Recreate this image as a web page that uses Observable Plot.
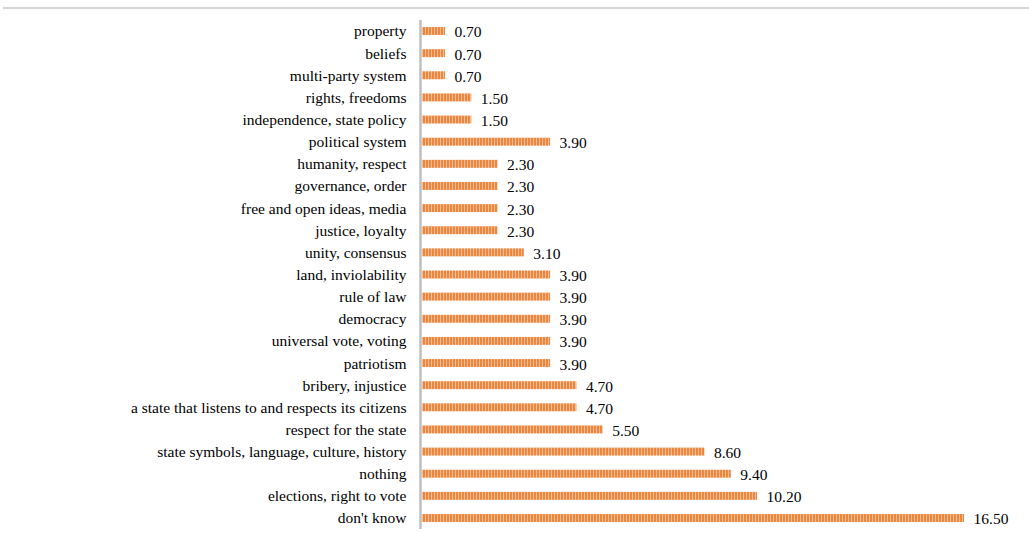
<!DOCTYPE html>
<html>
<head>
<meta charset="utf-8">
<script src="https://cdn.jsdelivr.net/npm/d3@7"></script>
<script src="https://cdn.jsdelivr.net/npm/@observablehq/plot@0.6"></script>
<style>
  html, body { margin: 0; padding: 0; background: #fff; }
  #wrap { position: relative; width: 1029px; height: 533px; }
  #topline { position: absolute; left: 3px; right: 0; top: 7px; height: 2px; background: #d4d4d4; }
  #chart { position: absolute; left: 0; top: 0; }
</style>
</head>
<body>
<div id="wrap"><div id="topline"></div><div id="chart"></div></div>
<script>
const categories = [
  "property", "beliefs", "multi-party system", "rights, freedoms",
  "independence, state policy", "political system", "humanity, respect",
  "governance, order", "free and open ideas, media", "justice, loyalty",
  "unity, consensus", "land, inviolability", "rule of law", "democracy",
  "universal vote, voting", "patriotism", "bribery, injustice",
  "a state that listens to and respects its citizens", "respect for the state",
  "state symbols, language, culture, history", "nothing",
  "elections, right to vote", "don't know"
];
const values = [
  0.70, 0.70, 0.70, 1.50, 1.50, 3.90, 2.30, 2.30, 2.30, 2.30, 3.10, 3.90,
  3.90, 3.90, 3.90, 3.90, 4.70, 4.70, 5.50, 8.60, 9.40, 10.20, 16.50
];
const data = categories.map((c, i) => ({category: c, value: values[i]}));

const plot = Plot.plot({
  width: 1029,
  height: 533,
  marginLeft: 422,
  marginRight: 65,
  marginTop: 19.95,
  marginBottom: 3.95,
  style: {fontFamily: "'Liberation Serif', 'Times New Roman', serif", fontSize: "15px", color: "#000", background: "transparent"},
  x: {domain: [0, 16.5], axis: null},
  y: {domain: categories, paddingInner: 0.64, paddingOuter: 0.32, round: false, label: null},
  marks: [
    Plot.barX(data, {x: "value", y: "category", fill: "url(#stripes)"}),
    Plot.ruleX([0], {dx: -2, stroke: "#bfbfbf", strokeWidth: 2.5}),
    Plot.axisY({tickSize: 0, tickPadding: 16, label: null, fontSize: 15.5, fill: "#000"}),
    Plot.text(data, {x: "value", y: "category", text: d => d.value.toFixed(2), textAnchor: "start", dx: 9, dy: 1, fontSize: 15.5, fill: "#000"})
  ]
});

const svg = d3.select(plot);
const defs = svg.insert("defs", ":first-child");
const pat = defs.append("pattern")
  .attr("id", "stripes")
  .attr("patternUnits", "userSpaceOnUse")
  .attr("width", 3).attr("height", 10);
pat.append("rect").attr("width", 3).attr("height", 10).attr("fill", "#EE8640");
pat.append("rect").attr("x", 2).attr("width", 1).attr("height", 10).attr("fill", "#F7BE94");

document.getElementById("chart").appendChild(plot);
</script>
</body>
</html>
